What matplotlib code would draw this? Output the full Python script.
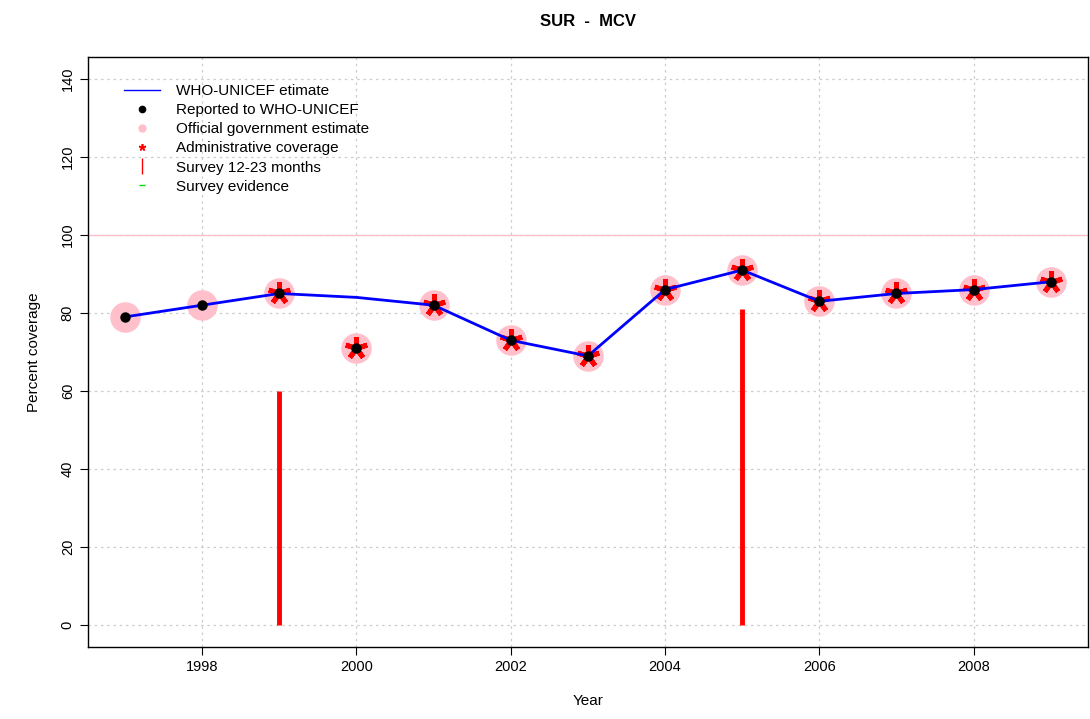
import matplotlib
matplotlib.use('Agg')
import matplotlib.pyplot as plt
from matplotlib.lines import Line2D
import numpy as np

plt.rcParams['font.family'] = ['Liberation Sans', 'DejaVu Sans']

years = [1997, 1998, 1999, 2000, 2001, 2002, 2003, 2004, 2005, 2006, 2007, 2008, 2009]
wuenic = [79, 82, 85, 84, 82, 73, 69, 86, 91, 83, 85, 86, 88]
reported = [79, 82, 85, 71, 82, 73, 69, 86, 91, 83, 85, 86, 88]
official = [79, 82, 85, 71, 82, 73, 69, 86, 91, 83, 85, 86, 88]
admin_years = [1999, 2000, 2001, 2002, 2003, 2004, 2005, 2006, 2007, 2008, 2009]
admin = [85, 71, 82, 73, 69, 86, 91, 83, 85, 86, 88]
survey_years = [1999, 2005]
survey = [60, 81]

fig = plt.figure(figsize=(10.9, 7.19), dpi=100)
ax = fig.add_axes([0.0807, 0.1001, 0.9173, 0.8206])

ax.set_xlim(1996.52, 2009.48)
ax.set_ylim(-5.6, 145.6)
ax.set_xticks(np.arange(1998, 2010, 2))
ax.set_yticks(np.arange(0, 141, 20))
ax.grid(True, color='#cccccc', linestyle=(0, (2, 3)), linewidth=0.9)
ax.set_axisbelow(True)

ax.axhline(100, color='pink', linewidth=1)

# pink = official estimate, red star = admin, black = reported
ax.plot(years, official, 'o', color='pink', markersize=22, markeredgewidth=0, zorder=2)
ax.plot(admin_years, admin, linestyle='none', marker=(5, 2, 0), color='red',
        markersize=16, markeredgewidth=3.5, zorder=3)
ax.plot(years, wuenic, '-', color='blue', linewidth=2, zorder=4)
ax.plot(years, reported, 'o', color='black', markersize=6.5, zorder=5)
ax.vlines(survey_years, 0, survey, color='red', linewidth=3.5, zorder=3)

handles = [
    Line2D([], [], color='blue', linewidth=1),
    Line2D([], [], linestyle='none', marker='o', color='black', markersize=4.5),
    Line2D([], [], linestyle='none', marker='o', color='pink', markersize=5),
    Line2D([], [], linestyle='none', marker=(5, 2, 0), color='red', markersize=5, markeredgewidth=1.2),
    Line2D([], [], linestyle='none', marker='|', color='red', markersize=11),
    Line2D([], [], linestyle='none', marker='_', color='#00dd00', markersize=4),
]
labels = ['WHO-UNICEF etimate', 'Reported to WHO-UNICEF', 'Official government estimate',
          'Administrative coverage', 'Survey 12-23 months', 'Survey evidence']
ax.legend(handles, labels, loc='upper left', bbox_to_anchor=(0.022, 0.977), frameon=False,
          fontsize=11, handlelength=2.4, labelspacing=0.33, handletextpad=1.0)

for s in ax.spines.values():
    s.set_linewidth(1)
ax.tick_params(direction='out', length=6, labelsize=10.5)
for lab in ax.get_yticklabels():
    lab.set_rotation(90)
    lab.set_va('center')

ax.set_xlabel('Year', fontsize=11, labelpad=14)
ax.set_ylabel('Percent coverage', fontsize=11, labelpad=14)
ax.set_title('SUR  -  MCV', fontsize=12, fontweight='bold', pad=22)

fig.savefig('out.png', dpi=100)
